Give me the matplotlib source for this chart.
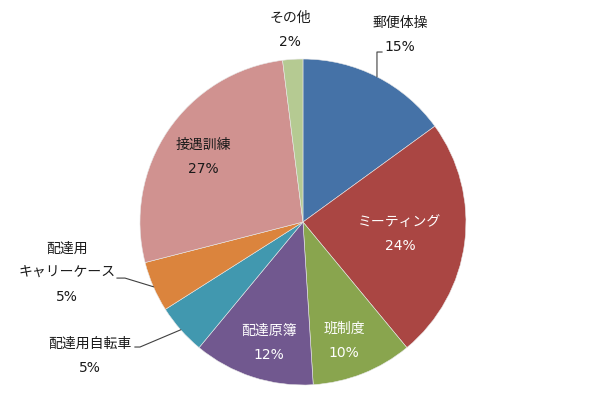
import numpy as np
import matplotlib.pyplot as plt

plt.rcParams['font.family'] = ['DejaVu Sans', 'Noto Sans CJK JP']

# data
labels = ['郵便体操', 'ミーティング', '班制度', '配達原簿', '配達用自転車',
          '配達用\nキャリーケース', '接遇訓練', 'その他']
shares = [15, 24, 10, 12, 5, 5, 27, 2]
colors = ['#4572A7', '#AA4643', '#89A54E', '#71588F', '#4198AF',
          '#DB843D', '#D09290', '#B5CA92']

# label layout (pie radius units) and text colour
label_xy = [(0.595, 1.147), (0.595, -0.074), (0.252, -0.730), (-0.209, -0.742),
            (-1.307, -0.822), (-1.448, -0.313), (-0.613, 0.399), (-0.080, 1.178)]
text_col = ['#1a1a1a', 'white', 'white', 'white', '#1a1a1a', '#1a1a1a', '#1a1a1a', '#1a1a1a']
# leader lines: index -> elbow points after the wedge edge
leaders = {0: [(0.454, 1.043), (0.485, 1.043)],
           4: [(-1.0, -0.767), (-1.031, -0.767)],
           5: [(-1.092, -0.344), (-1.141, -0.344)]}

fig = plt.figure(figsize=(6, 3.95), dpi=100)
ax = fig.add_axes([0.2333, 0.0253, 0.5433, 0.8253])
wedges, _ = ax.pie(shares, colors=colors, startangle=90, counterclock=False,
                   wedgeprops=dict(linewidth=0.4, edgecolor='#e8e8e8'))
ax.set_xlim(-1, 1)
ax.set_ylim(-1, 1)
ax.set_aspect('equal')
ax.axis('off')

for i, (lab, v) in enumerate(zip(labels, shares)):
    x, y = label_xy[i]
    ax.text(x, y, f'{lab}\n{v}%', ha='center', va='center', fontsize=10,
            color=text_col[i], linespacing=1.95, clip_on=False)
    if i in leaders:
        w = wedges[i]
        mid = np.deg2rad((w.theta1 + w.theta2) / 2)
        pts = [(np.cos(mid), np.sin(mid))] + leaders[i]
        xs, ys = zip(*pts)
        ax.plot(xs, ys, color='#404040', lw=0.8, clip_on=False)

fig.savefig('out.png', dpi=100)
